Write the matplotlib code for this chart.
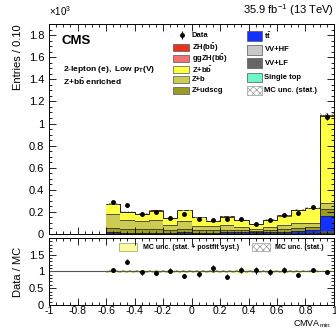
import numpy as np
import matplotlib
matplotlib.use("Agg")
import matplotlib.pyplot as plt
from matplotlib.patches import Rectangle
from matplotlib.ticker import MultipleLocator, FuncFormatter

plt.rcParams['font.family'] = ['Liberation Sans', 'DejaVu Sans']
plt.rcParams['mathtext.fontset'] = 'custom'
plt.rcParams['mathtext.rm'] = 'Liberation Sans'
plt.rcParams['mathtext.it'] = 'Liberation Sans:italic'
plt.rcParams['mathtext.bf'] = 'Liberation Sans:bold'
plt.rcParams['hatch.color'] = '#9a9a9a'
plt.rcParams['hatch.linewidth'] = 0.5

# bin edges of CMVA_min (only -0.6 .. 1 filled)
edges = [-0.6, -0.5, -0.4, -0.3, -0.2, -0.1, 0.0, 0.1, 0.2, 0.3, 0.4, 0.5, 0.6, 0.7, 0.8, 0.9, 1.0]

# entries in units of 10^3, stacked bottom -> top
vv_lf = [0.002] * 15 + [0.010]
vv_hf = [0.003] * 15 + [0.010]
single_top = [0.002] * 15 + [0.006]
ttbar = [0.008, 0.006, 0.006, 0.006, 0.006, 0.007, 0.006, 0.006, 0.007, 0.007, 0.007, 0.008, 0.012, 0.020, 0.025, 0.140]
z_udscg = [0.040, 0.035, 0.030, 0.030, 0.025, 0.030, 0.020, 0.020, 0.025, 0.020, 0.015, 0.020, 0.025, 0.030, 0.035, 0.060]
z_b = [0.130, 0.080, 0.075, 0.080, 0.040, 0.075, 0.040, 0.035, 0.040, 0.030, 0.020, 0.030, 0.035, 0.040, 0.035, 0.050]
z_bb = [0.085, 0.070, 0.065, 0.088, 0.065, 0.095, 0.078, 0.050, 0.078, 0.061, 0.040, 0.062, 0.088, 0.120, 0.132, 0.790]
ggzh = [0.0005] * 15 + [0.004]
zh = [0.001] * 15 + [0.010]

data = [0.285, 0.258, 0.180, 0.203, 0.148, 0.185, 0.139, 0.130, 0.133, 0.132, 0.094, 0.127, 0.176, 0.194, 0.245, 1.060]
mc_stat = [0.006, 0.005, 0.005, 0.005, 0.004, 0.005, 0.004, 0.004, 0.004, 0.004, 0.003, 0.004, 0.004, 0.005, 0.005, 0.012]
# relative MC uncertainty (stat + postfit syst) in the ratio
ratio_syst = [0.045, 0.04, 0.04, 0.04, 0.045, 0.04, 0.04, 0.045, 0.05, 0.07, 0.05, 0.04, 0.04, 0.04, 0.035, 0.03]

# (key, label, values, colour), stacked bottom -> top
stack = [
    ("vvlf", "VV+LF", vv_lf, "#666666"),
    ("vvhf", "VV+HF", vv_hf, "#c8c8c8"),
    ("st", "Single top", single_top, "#70f5c8"),
    ("tt", r"$\mathbf{t\bar{t}}$", ttbar, "#1432ff"),
    ("zudscg", "Z+udscg", z_udscg, "#9b9b26"),
    ("zb", "Z+b", z_b, "#cccc55"),
    ("zbb", r"$\mathbf{Z{+}b\bar{b}}$", z_bb, "#ffff44"),
    ("ggzh", r"$\mathbf{ggZH(b\bar{b})}$", ggzh, "#f07272"),
    ("zh", r"$\mathbf{ZH(b\bar{b})}$", zh, "#e8321e"),
]

edges = np.array(edges)
centers = 0.5 * (edges[:-1] + edges[1:])
data = np.array(data)
err = np.sqrt(data * 1000) / 1000

fig = plt.figure(figsize=(3.36, 3.30), dpi=100)
ax = fig.add_axes([0.146, 0.291, 0.848, 0.636])
rax = fig.add_axes([0.146, 0.076, 0.848, 0.203])

bottom = np.zeros(len(centers))
info = {}
for key, label, vals, col in stack:
    vals = np.array(vals)
    ax.stairs(bottom + vals, edges, baseline=bottom, fill=True, color=col, lw=0)
    ax.stairs(bottom + vals, edges, baseline=None, color='#222222', lw=0.5)
    bottom = bottom + vals
    info[key] = (label, col)
total = bottom

mc_stat = np.array(mc_stat)
ax.stairs(total + mc_stat, edges, baseline=total - mc_stat, fill=True,
          facecolor='none', edgecolor='#9a9a9a', hatch='xxxxx', lw=0)

ax.errorbar(centers, data, yerr=err, fmt='o', color='black', ms=2.5, lw=0.8, capsize=0)

fmt = FuncFormatter(lambda v, p: '%g' % round(v, 2))
ax.set_xlim(-1, 1)
ax.set_ylim(0, 1.9)
ax.xaxis.set_major_locator(MultipleLocator(0.2))
ax.xaxis.set_minor_locator(MultipleLocator(0.05))
ax.yaxis.set_major_locator(MultipleLocator(0.2))
ax.yaxis.set_minor_locator(MultipleLocator(0.05))
ax.yaxis.set_major_formatter(fmt)
ax.tick_params(labelbottom=False)
ax.set_ylabel("Entries / 0.10", fontsize=8, loc='top')

for a in (ax, rax):
    a.tick_params(which='both', direction='in', top=True, right=True, labelsize=8, width=0.6)
    a.tick_params(which='major', length=5)
    a.tick_params(which='minor', length=2.5)
    for s in a.spines.values():
        s.set_linewidth(0.7)
rax.tick_params(axis='x', pad=1, labelsize=7.5)

fig.text(0.146, 0.945, r"$\times$10$^{3}$", fontsize=7, ha='left', va='bottom')
fig.text(0.994, 0.945, r"35.9 fb$^{-1}$ (13 TeV)", fontsize=8, ha='right', va='bottom')
ax.text(0.045, 0.95, "CMS", transform=ax.transAxes, fontsize=9.5, fontweight='bold', va='top')
ax.text(0.05, 0.81, r"$\mathbf{2\text{-}lepton\ (e),\ Low\ p_{T}(V)}$", transform=ax.transAxes, fontsize=6, va='top')
ax.text(0.05, 0.75, r"$\mathbf{Z{+}b\bar{b}\ enriched}$", transform=ax.transAxes, fontsize=6, va='top')


def legend_box(a, x0, x1, yc, h, label, tx, size=5.5, **kw):
    a.add_patch(Rectangle((x0, yc - h / 2), x1 - x0, h, transform=a.transAxes,
                          clip_on=False, lw=0.5, **kw))
    a.text(tx, yc, label, transform=a.transAxes, fontsize=size, fontweight='bold',
           va='center', ha='left')


# left legend column
ax.errorbar([0.466], [0.948], yerr=[0.018], fmt='o', color='black', ms=2.5, lw=0.8,
            transform=ax.transAxes, clip_on=False)
ax.text(0.50, 0.948, "Data", transform=ax.transAxes, fontsize=5.5, fontweight='bold', va='center')
for key, yc in zip(["zh", "ggzh", "zbb", "zb", "zudscg"], [0.890, 0.835, 0.784, 0.735, 0.684]):
    label, col = info[key]
    legend_box(ax, 0.436, 0.491, yc, 0.033, label, 0.50, facecolor=col, edgecolor='#555555')

# right legend column
for key, yc in zip(["tt", "vvhf", "vvlf", "st"], [0.943, 0.877, 0.814, 0.746]):
    label, col = info[key]
    legend_box(ax, 0.696, 0.748, yc, 0.045, label, 0.756, facecolor=col, edgecolor='#555555')
legend_box(ax, 0.696, 0.748, 0.684, 0.045, "MC unc. (stat.)", 0.756,
           facecolor='white', edgecolor='#9a9a9a', hatch='xxxxx')

# ratio panel
ratio = data / total
rerr = err / total
rel_stat = mc_stat / total
ratio_syst = np.array(ratio_syst)
rax.axhline(1, color='#555555', lw=0.8)
rax.stairs(1 + ratio_syst, edges, baseline=1 - ratio_syst, fill=True, color='#fafaa0', alpha=0.85, lw=0)
rax.stairs(1 + rel_stat * 1.5, edges, baseline=1 - rel_stat * 1.5, fill=True,
           facecolor='none', edgecolor='#9a9a9a', hatch='xxxxx', lw=0)
rax.errorbar(centers, ratio, yerr=rerr, fmt='o', color='black', ms=2.5, lw=0.8, capsize=0)
rax.set_xlim(-1, 1)
rax.set_ylim(0, 2.0)
rax.xaxis.set_major_locator(MultipleLocator(0.2))
rax.xaxis.set_minor_locator(MultipleLocator(0.05))
rax.xaxis.set_major_formatter(fmt)
rax.set_yticks([0, 0.5, 1, 1.5])
rax.yaxis.set_minor_locator(MultipleLocator(0.1))
rax.yaxis.set_major_formatter(fmt)
rax.set_ylabel("Data / MC", fontsize=8)
rax.set_xlabel(r"CMVA$_{\rm min}$", fontsize=6.5, ha='right', va='top')
rax.xaxis.set_label_coords(0.99, -0.19)

legend_box(rax, 0.246, 0.308, 0.861, 0.12, "MC unc. (stat. + postfit syst.)", 0.33, size=5.0,
           facecolor='#fafaa0', edgecolor='#999966')
legend_box(rax, 0.711, 0.775, 0.861, 0.12, "MC unc. (stat.)", 0.793, size=5.0,
           facecolor='white', edgecolor='#9a9a9a', hatch='xxxxx')

fig.align_ylabels([ax, rax])
fig.savefig("out.png", dpi=100)
